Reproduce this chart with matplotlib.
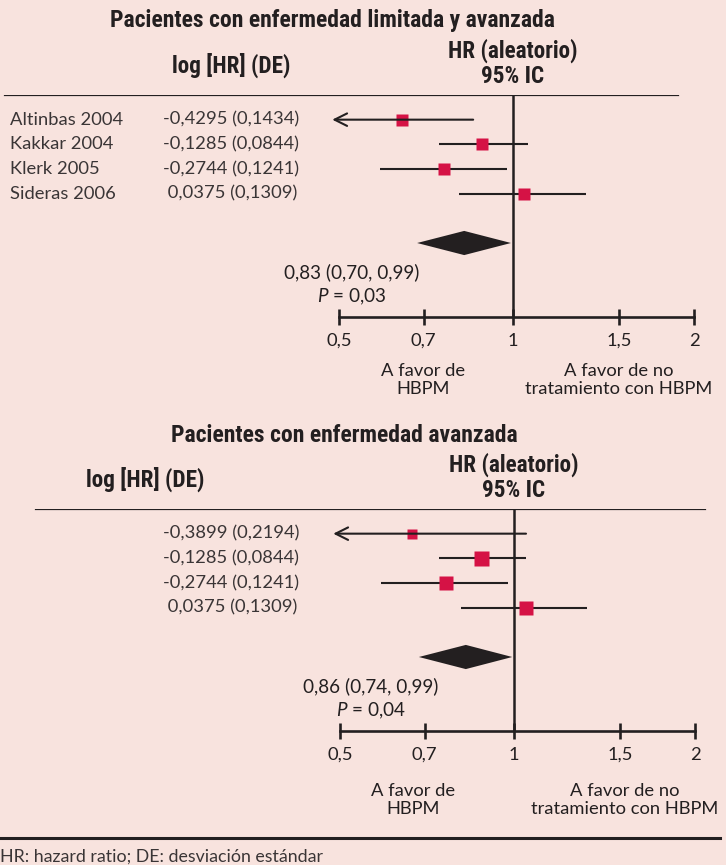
import numpy as np
import matplotlib
matplotlib.use('Agg')
import matplotlib.pyplot as plt
from matplotlib.lines import Line2D

# Data
studies = ['Altinbas 2004', 'Kakkar 2004', 'Klerk 2005', 'Sideras 2006']
log_hr_top = [-0.4295, -0.1285, -0.2744, 0.0375]
se_top = [0.1434, 0.0844, 0.1241, 0.1309]
log_hr_bot = [-0.3899, -0.1285, -0.2744, 0.0375]
se_bot = [0.2194, 0.0844, 0.1241, 0.1309]

# HR point estimates and CI limits as drawn
hr_top = [0.641, 0.882, 0.760, 1.044]
lo_top = [0.486, 0.745, 0.588, 0.807]
hi_top = [0.853, 1.059, 0.975, 1.322]
hr_bot = [0.666, 0.878, 0.763, 1.048]
lo_bot = [0.486, 0.742, 0.589, 0.808]
hi_bot = [1.047, 1.046, 0.977, 1.323]

# pooled diamond (as drawn) and the printed summary
pool_top = [0.682, 0.823, 0.992]
pool_bot = [0.684, 0.825, 0.993]
summary_top = ['0,83 (0,70, 0,99)', '0,03']
summary_bot = ['0,86 (0,74, 0,99)', '0,04']

ticks = [0.5, 0.7, 1, 1.5, 2]
tick_labels = ['0,5', '0,7', '1', '1,5', '2']

# marker sizes (pt) ~ study weights
sq_top = [9.2, 9.2, 9.2, 9.2]
sq_bot = [6.5, 10.8, 9.4, 9.4]

BG = '#f8e3de'
DARK = '#231f20'
GREY = '#3a3536'
RED = '#d51245'
W, H = 726, 865
FS = 13.2      # body text
FB = 16.7      # bold headers

plt.rcParams['font.family'] = ['Lato', 'DejaVu Sans']
plt.rcParams['mathtext.fontset'] = 'custom'
plt.rcParams['mathtext.rm'] = 'Lato'
plt.rcParams['mathtext.it'] = 'Lato:italic'
BOLD = ['Roboto Condensed', 'DejaVu Sans']

KL, KR = 250.5, 261.6  # px per log unit left / right of HR=1


def fwd(x):
    x = np.asarray(x, dtype=float)
    lx = np.log(np.clip(x, 1e-9, None))
    return np.where(lx < 0, lx * KL, lx * KR)


def inv(y):
    y = np.asarray(y, dtype=float)
    return np.where(y < 0, np.exp(y / KL), np.exp(y / KR))


def fmt(v):
    s = f'{abs(v):.4f}'.replace('.', ',')
    return ('-' if v < 0 else ' ') + s


def panel(fig, top_px, x1_px, line_span, log_hr, se, hr, lo, hi, sizes,
          pool, summary, show_names, hdr_x, sum_x, favor_x, favor_row):
    ax = fig.add_axes([0, 1 - (top_px + 222) / H, 1, 222 / H])
    ax.set_facecolor('none')
    ax.set_xscale('function', functions=(fwd, inv))
    ax.set_xlim(float(inv(-x1_px)), float(inv(W - x1_px)))
    ax.set_ylim(8, -1)
    for s in ['top', 'left', 'right']:
        ax.spines[s].set_visible(False)
    ax.spines['bottom'].set_bounds(0.5, 2)
    ax.spines['bottom'].set_linewidth(1.9)
    ax.spines['bottom'].set_color(DARK)
    ax.set_yticks([])
    ax.set_xticks(ticks)
    ax.set_xticklabels(tick_labels, fontsize=FS, color=DARK)
    ax.xaxis.set_minor_locator(matplotlib.ticker.NullLocator())
    ax.tick_params(axis='x', direction='inout', length=11, width=1.9,
                   color=DARK, pad=6)

    ax.axhline(-1, xmin=line_span[0] / W, xmax=line_span[1] / W,
               color=DARK, lw=1.6)
    ax.axvline(1, color=DARK, lw=1.8)

    yt = ax.get_yaxis_transform()
    for i in range(len(hr)):
        if lo[i] < ticks[0]:
            ax.annotate('', xy=(lo[i], i), xytext=(hi[i], i),
                        arrowprops=dict(arrowstyle='->,head_length=0.9,head_width=0.45',
                                        color=DARK, lw=1.5, shrinkA=0, shrinkB=0))
        else:
            ax.plot([lo[i], hi[i]], [i, i], color=DARK, lw=1.5,
                    solid_capstyle='butt')
        ax.plot(hr[i], i, marker='s', ms=sizes[i], color=RED, mec='none')
        if show_names:
            ax.text(10 / W, i, studies[i], transform=yt, fontsize=FS,
                    color=GREY, va='center', ha='left')
        ax.text(163 / W, i, f'{fmt(log_hr[i])} ({fmt(se[i]).strip()})',
                transform=yt, fontsize=FS, color=GREY,
                va='center', ha='left')

    # pooled diamond
    r = 5
    ax.fill([pool[0], pool[1], pool[2], pool[1]],
            [r, r - 0.49, r, r + 0.49], color=DARK, lw=0)
    ax.text(sum_x / W, 6.2, summary[0], transform=yt, fontsize=13.6,
            color=DARK, ha='center', va='center')
    ax.text(sum_x / W, 7.2, f'$P$ = {summary[1]}', transform=yt,
            fontsize=13.6, color=DARK, ha='center', va='center')

    # headers
    ax.text(hdr_x / W, -2.2, 'log [HR] (DE)', transform=yt, fontsize=FB,
            family=BOLD, weight='bold', color=DARK, ha='center', va='center')
    ax.text(x1_px / W, -2.8, 'HR (aleatorio)', transform=yt, fontsize=FB,
            family=BOLD, weight='bold', color=DARK, ha='center', va='center')
    ax.text(x1_px / W, -1.75, '95% IC', transform=yt, fontsize=FB,
            family=BOLD, weight='bold', color=DARK, ha='center', va='center')

    ax.text(favor_x[0] / W, favor_row, 'A favor de\nHBPM', transform=yt,
            fontsize=FS, color=DARK, ha='center', va='center',
            linespacing=1.15)
    ax.text(favor_x[1] / W, favor_row, 'A favor de no\ntratamiento con HBPM',
            transform=yt, fontsize=FS, color=DARK, ha='center',
            va='center', linespacing=1.15)
    return ax


fig = plt.figure(figsize=(W / 100, H / 100), dpi=100, facecolor=BG)

fig.text(332 / W, 1 - 20 / H, 'Pacientes con enfermedad limitada y avanzada',
         family=BOLD, weight='bold', fontsize=17, color=DARK,
         ha='center', va='center')
fig.text(344 / W, 1 - 436 / H, 'Pacientes con enfermedad avanzada',
         family=BOLD, weight='bold', fontsize=17, color=DARK,
         ha='center', va='center')

panel(fig, 95, 513, (5, 678), log_hr_top, se_top, hr_top, lo_top, hi_top,
      sq_top, pool_top, summary_top, True, 231, 352, (423, 619), 10.55)
panel(fig, 509, 514, (36, 705), log_hr_bot, se_bot, hr_bot, lo_bot, hi_bot,
      sq_bot, pool_bot, summary_bot, False, 145, 371, (413, 625), 10.8)

fig.add_artist(Line2D([0, 720 / W], [1 - 838 / H, 1 - 838 / H],
                      color=DARK, lw=2.2))
fig.text(0, 1 - 857 / H, 'HR: hazard ratio; DE: desviación estándar',
         fontsize=12.8, color=GREY, ha='left', va='center')

fig.savefig('out.png', dpi=100, facecolor=BG)
